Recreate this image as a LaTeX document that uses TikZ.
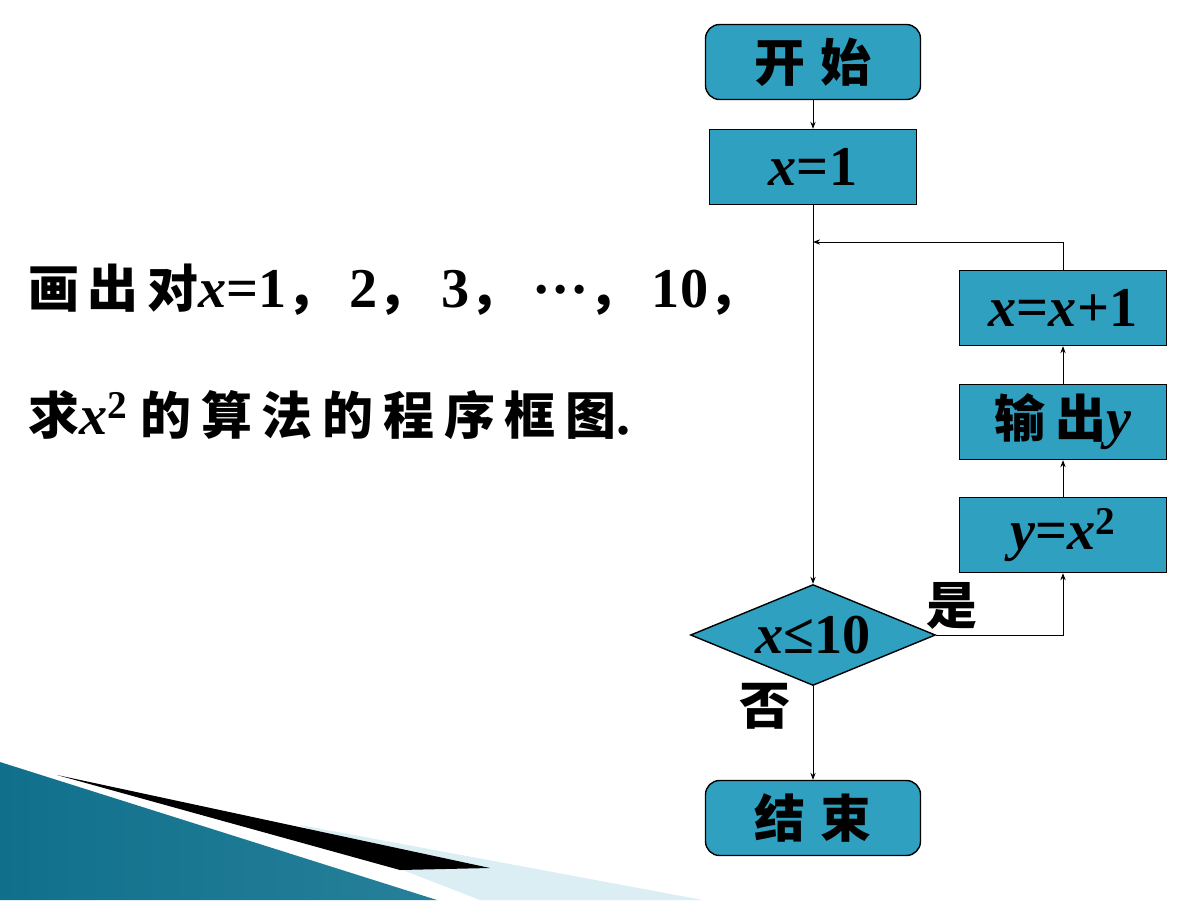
\documentclass[tikz,border=0pt]{standalone}
\usepackage{fontspec}
\usetikzlibrary{shapes.geometric,arrows.meta}
\setmainfont{Liberation Serif}
\newfontfamily\cjk{Noto Sans CJK SC}
\definecolor{boxteal}{RGB}{48,160,192}
\definecolor{deepteal}{RGB}{16,112,140}
\definecolor{paleteal}{RGB}{84,188,218}
\newcommand\xv{\textbf{\textit{x}}}
\newcommand\yv{\textbf{\textit{y}}}
\newcommand\hz[1]{{\fontsize{29}{32}\selectfont\cjk\bfseries #1}}
\newcommand\dou{\hz{，}\hspace{7pt}}

\begin{document}
\begin{tikzpicture}[x=0.02cm,y=-0.02cm,
    stepbox/.style={draw, line width=0.8pt, fill=boxteal, minimum width=4.14cm, minimum height=1.5cm, inner sep=0pt, font=\fontsize{32}{36}\selectfont},
    termbox/.style={stepbox, rounded corners=8pt, minimum width=4.3cm},
    testbox/.style={stepbox, diamond, aspect=2.4, minimum width=4.9cm, minimum height=2.02cm},
    flow/.style={line width=0.5pt, -{Stealth[length=4pt,width=3pt]}},
    say/.style={font=\fontsize{32}{36}\selectfont, inner sep=0pt}]
  \useasboundingbox (0,0) rectangle (1200,900);

  % corner decoration
  \shade[left color=deepteal, middle color=paleteal, right color=boxteal!80!black]
    (0,762) -- (437,900) -- (0,900) -- cycle;
  \fill[boxteal!18] (300,825) -- (703,900) -- (480,900) -- (400,869) -- cycle;
  \fill[black] (57,775) -- (490,868) -- (400,870) -- cycle;

  % flowchart
  \node[termbox] (start) at (813,62) {\hz{开\hspace{0.3em}始}};
  \node[stepbox] (x1) at (813,167) {\xv\textbf{=1}};
  \node[stepbox] (inc) at (1063,308) {\xv\textbf{=}\xv\textbf{+1}};
  \node[stepbox] (out) at (1063,422) {\hz{输\hspace{0.2em}出}\yv};
  \node[stepbox] (sq) at (1063,535) {\yv\textbf{=}\xv\textbf{\textsuperscript{2}}};
  \node[testbox] (cond) at (813,635) {\xv\textbf{≤10}};
  \node[termbox] (stop) at (813,818) {\hz{结\hspace{0.3em}束}};
  \coordinate (join) at (813,242);

  \draw[flow] (start) -- (x1);
  \draw[flow] (x1) -- (cond);
  \draw[flow] (cond.east) -| (sq.south);
  \draw[flow] (sq) -- (out);
  \draw[flow] (out) -- (inc);
  \draw[flow] (inc.north) |- (join);
  \draw[flow] (cond) -- (stop);

  \node[say] (yes) at (952,606) {\hz{是}};
  \node[say] (no) at (765,706) {\hz{否}};

  % question text
  \node[say, anchor=west] (q1) at (28,290)
    {\hz{画\,出\,对}\xv\textbf{=1}\dou\textbf{2}\dou\textbf{3}\dou\raisebox{8pt}{\textbf{…}}\dou\textbf{10}\hz{，}};
  \node[say, anchor=west] (q2) at (28,415)
    {\hz{求}\xv\textbf{\textsuperscript{2}}\hspace{7pt}\hz{的\hspace{5.6pt}算\hspace{5.6pt}法\hspace{5.6pt}的\hspace{5.6pt}程\hspace{5.6pt}序\hspace{5.6pt}框\hspace{5.6pt}图}\textbf{.}};
\end{tikzpicture}
\end{document}
